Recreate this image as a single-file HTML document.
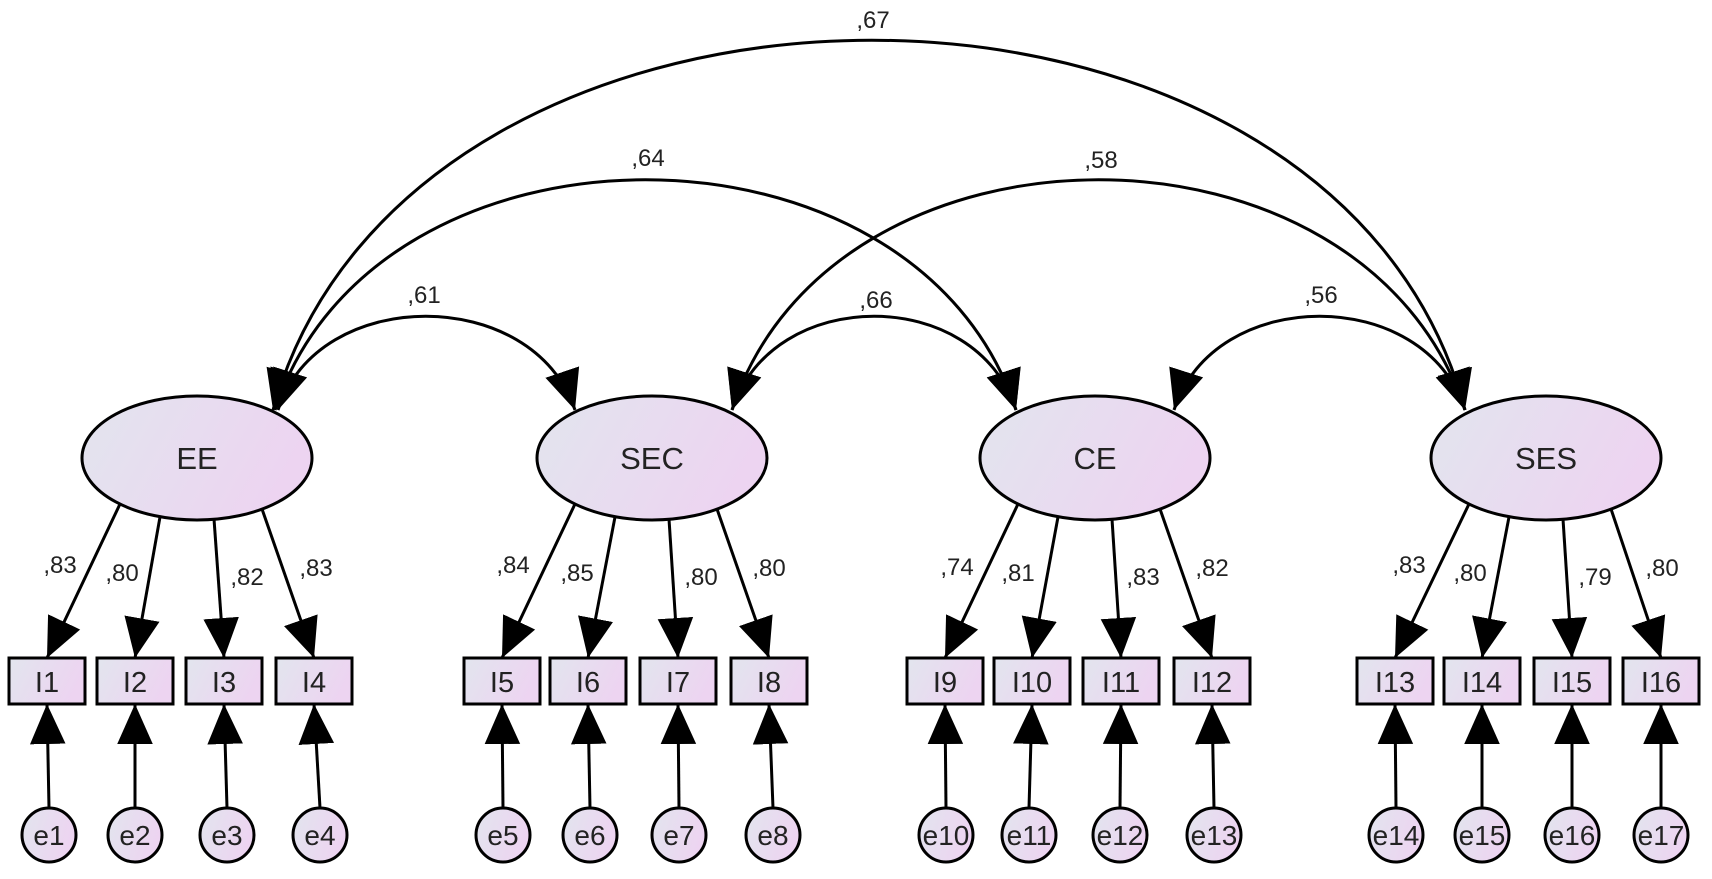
<!DOCTYPE html>
<html><head><meta charset="utf-8"><style>
html,body{margin:0;padding:0;background:#fff}
svg{display:block}
text{font-family:"Liberation Sans",Arial,sans-serif;fill:#222}
.l{font-size:24px}
</style></head><body>
<svg width="1712" height="879" viewBox="0 0 1712 879" xmlns="http://www.w3.org/2000/svg">
<defs>
<linearGradient id="g" x1="0" y1="0" x2="1" y2="0.3">
<stop offset="0" stop-color="#e2e5ee"/><stop offset="1" stop-color="#edd4f1"/>
</linearGradient>
<marker id="a" markerUnits="userSpaceOnUse" markerWidth="40" markerHeight="40" viewBox="0 0 36 32" refX="36" refY="16" orient="auto-start-reverse">
<path d="M0,0 L36,16 L0,32 Z" fill="#000"/>
</marker>
</defs>
<g fill="none" stroke="#000" stroke-width="3">
<path d="M278,410 C318,285 533,285 575,410" marker-start="url(#a)" marker-end="url(#a)"/>
<path d="M732,410 C772,285 976,285 1016,410" marker-start="url(#a)" marker-end="url(#a)"/>
<path d="M1174,410 C1214,285 1425,285 1465,410" marker-start="url(#a)" marker-end="url(#a)"/>
<path d="M275,410 C375,103 916,103 1016,410" marker-start="url(#a)" marker-end="url(#a)"/>
<path d="M732,410 C832,103 1365,103 1465,410" marker-start="url(#a)" marker-end="url(#a)"/>
<path d="M273,410 C410,-83 1335,-83 1465,410" marker-start="url(#a)" marker-end="url(#a)"/>
<path d="M120,504 L47,658" marker-end="url(#a)"/>
<path d="M160,517 L135,658" marker-end="url(#a)"/>
<path d="M214,519 L224,658" marker-end="url(#a)"/>
<path d="M262,509 L314,658" marker-end="url(#a)"/>
<path d="M575,504 L502,658" marker-end="url(#a)"/>
<path d="M615,517 L588,658" marker-end="url(#a)"/>
<path d="M669,519 L678,658" marker-end="url(#a)"/>
<path d="M717,509 L769,658" marker-end="url(#a)"/>
<path d="M1018,504 L945,658" marker-end="url(#a)"/>
<path d="M1058,517 L1032,658" marker-end="url(#a)"/>
<path d="M1112,519 L1121,658" marker-end="url(#a)"/>
<path d="M1160,509 L1212,658" marker-end="url(#a)"/>
<path d="M1469,504 L1395,658" marker-end="url(#a)"/>
<path d="M1509,517 L1482,658" marker-end="url(#a)"/>
<path d="M1563,519 L1572,658" marker-end="url(#a)"/>
<path d="M1611,509 L1661,658" marker-end="url(#a)"/>
<path d="M49,808 L47,704" marker-end="url(#a)"/>
<path d="M135,808 L135,704" marker-end="url(#a)"/>
<path d="M227,808 L224,704" marker-end="url(#a)"/>
<path d="M320,808 L314,704" marker-end="url(#a)"/>
<path d="M503,808 L502,704" marker-end="url(#a)"/>
<path d="M590,808 L588,704" marker-end="url(#a)"/>
<path d="M679,808 L678,704" marker-end="url(#a)"/>
<path d="M773,808 L769,704" marker-end="url(#a)"/>
<path d="M946,808 L945,704" marker-end="url(#a)"/>
<path d="M1029,808 L1032,704" marker-end="url(#a)"/>
<path d="M1120,808 L1121,704" marker-end="url(#a)"/>
<path d="M1214,808 L1212,704" marker-end="url(#a)"/>
<path d="M1396,808 L1395,704" marker-end="url(#a)"/>
<path d="M1482,808 L1482,704" marker-end="url(#a)"/>
<path d="M1572,808 L1572,704" marker-end="url(#a)"/>
<path d="M1661,808 L1661,704" marker-end="url(#a)"/>
</g>
<g fill="url(#g)" stroke="#000" stroke-width="3">
<ellipse cx="197" cy="458" rx="115" ry="62"/>
<ellipse cx="652" cy="458" rx="115" ry="62"/>
<ellipse cx="1095" cy="458" rx="115" ry="62"/>
<ellipse cx="1546" cy="458" rx="115" ry="62"/>
<rect x="9" y="658" width="76" height="46"/><rect x="97" y="658" width="76" height="46"/><rect x="186" y="658" width="76" height="46"/><rect x="276" y="658" width="76" height="46"/>
<rect x="464" y="658" width="76" height="46"/><rect x="550" y="658" width="76" height="46"/><rect x="640" y="658" width="76" height="46"/><rect x="731" y="658" width="76" height="46"/>
<rect x="907" y="658" width="76" height="46"/><rect x="994" y="658" width="76" height="46"/><rect x="1083" y="658" width="76" height="46"/><rect x="1174" y="658" width="76" height="46"/>
<rect x="1357" y="658" width="76" height="46"/><rect x="1444" y="658" width="76" height="46"/><rect x="1534" y="658" width="76" height="46"/><rect x="1623" y="658" width="76" height="46"/>
<circle cx="49" cy="835" r="27"/><circle cx="135" cy="835" r="27"/><circle cx="227" cy="835" r="27"/><circle cx="320" cy="835" r="27"/>
<circle cx="503" cy="835" r="27"/><circle cx="590" cy="835" r="27"/><circle cx="679" cy="835" r="27"/><circle cx="773" cy="835" r="27"/>
<circle cx="946" cy="835" r="27"/><circle cx="1029" cy="835" r="27"/><circle cx="1120" cy="835" r="27"/><circle cx="1214" cy="835" r="27"/>
<circle cx="1396" cy="835" r="27"/><circle cx="1482" cy="835" r="27"/><circle cx="1572" cy="835" r="27"/><circle cx="1661" cy="835" r="27"/>
</g>
<g font-size="31" text-anchor="middle">
<text x="197" y="469">EE</text><text x="652" y="469">SEC</text><text x="1095" y="469">CE</text><text x="1546" y="469">SES</text>
</g>
<g font-size="29" text-anchor="middle">
<text x="47" y="692">I1</text><text x="135" y="692">I2</text><text x="224" y="692">I3</text><text x="314" y="692">I4</text>
<text x="502" y="692">I5</text><text x="588" y="692">I6</text><text x="678" y="692">I7</text><text x="769" y="692">I8</text>
<text x="945" y="692">I9</text><text x="1032" y="692">I10</text><text x="1121" y="692">I11</text><text x="1212" y="692">I12</text>
<text x="1395" y="692">I13</text><text x="1482" y="692">I14</text><text x="1572" y="692">I15</text><text x="1661" y="692">I16</text>
</g>
<g font-size="28" text-anchor="middle">
<text x="49" y="845">e1</text><text x="135" y="845">e2</text><text x="227" y="845">e3</text><text x="320" y="845">e4</text>
<text x="503" y="845">e5</text><text x="590" y="845">e6</text><text x="679" y="845">e7</text><text x="773" y="845">e8</text>
<text x="946" y="845">e10</text><text x="1029" y="845">e11</text><text x="1120" y="845">e12</text><text x="1214" y="845">e13</text>
<text x="1396" y="845">e14</text><text x="1482" y="845">e15</text><text x="1572" y="845">e16</text><text x="1661" y="845">e17</text>
</g>
<g class="l" text-anchor="middle">
<text x="60" y="573">,83</text><text x="122" y="581">,80</text><text x="247" y="585">,82</text><text x="316" y="576">,83</text>
<text x="513" y="573">,84</text><text x="577" y="581">,85</text><text x="701" y="585">,80</text><text x="769" y="576">,80</text>
<text x="957" y="575">,74</text><text x="1018" y="581">,81</text><text x="1143" y="585">,83</text><text x="1212" y="576">,82</text>
<text x="1409" y="573">,83</text><text x="1470" y="581">,80</text><text x="1595" y="585">,79</text><text x="1662" y="576">,80</text>
<text x="424" y="303">,61</text><text x="876" y="308">,66</text><text x="1321" y="303">,56</text>
<text x="648" y="166">,64</text><text x="1101" y="168">,58</text><text x="873" y="28">,67</text>
</g>
</svg>
</body></html>
